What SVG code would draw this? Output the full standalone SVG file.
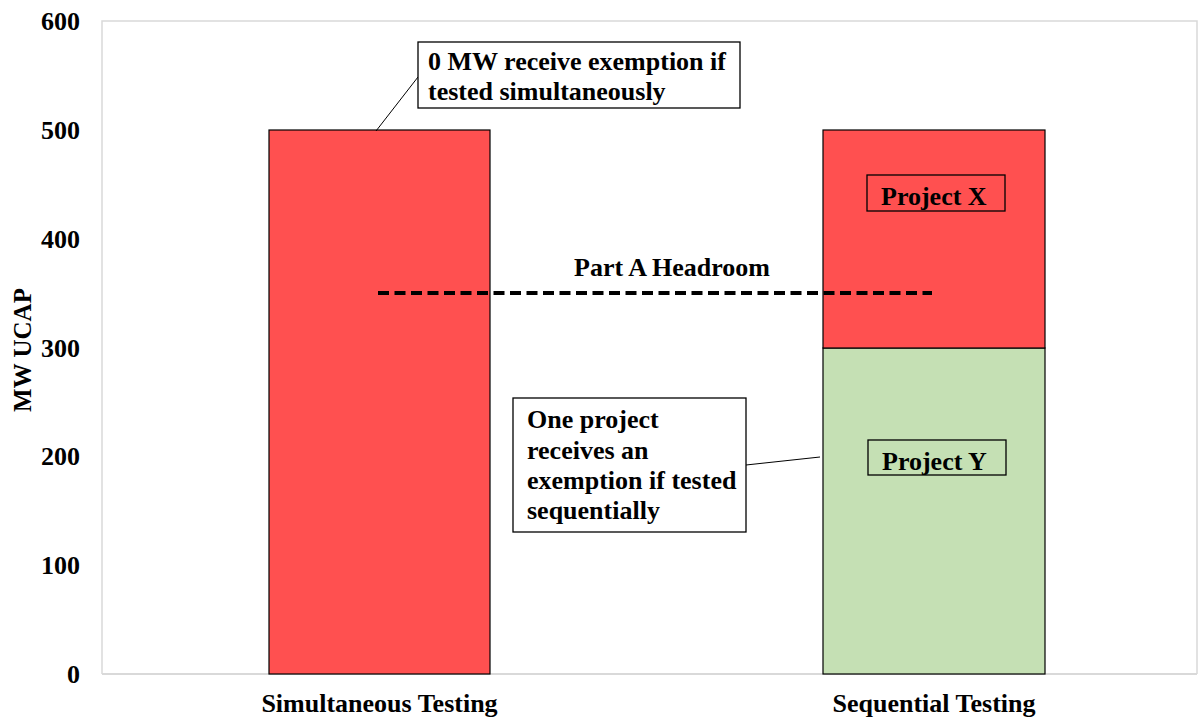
<svg xmlns="http://www.w3.org/2000/svg" width="1198" height="717" viewBox="0 0 1198 717">
  <style>
    text { font-family: "Liberation Serif", "Times New Roman", serif; font-weight: bold; fill: #000; }
    .tick { font-size: 26px; text-anchor: end; }
    .cat { font-size: 26px; text-anchor: middle; }
    .note { font-size: 26px; }
    .frame { stroke: #D9D9D9; stroke-width: 1.5; fill: none; }
    .bar { stroke: #000; stroke-width: 1.2; }
    .red { fill: #FF5050; }
    .green { fill: #C5E0B4; }
    .box { fill: #FFFFFF; stroke: #000; stroke-width: 1.3; }
    .tag { fill: none; stroke: #000; stroke-width: 1.3; }
    .leader { stroke: #000; stroke-width: 1; fill: none; }
  </style>
  <rect width="1198" height="717" fill="#FFFFFF"/>

  <!-- plot area frame and category axis -->
  <g id="plot-area">
    <path class="frame" d="M102,674 V21 H1197 V674"/>
    <line x1="102" y1="674" x2="1197" y2="674" stroke="#D9D9D9" stroke-width="2"/>
  </g>

  <!-- value axis -->
  <g id="value-axis">
    <text class="tick" x="80" y="683">0</text>
    <text class="tick" x="80" y="574">100</text>
    <text class="tick" x="80" y="465">200</text>
    <text class="tick" x="80" y="357">300</text>
    <text class="tick" x="80" y="248">400</text>
    <text class="tick" x="80" y="139">500</text>
    <text class="tick" x="80" y="30">600</text>
    <text font-size="25" text-anchor="middle" transform="translate(31,350) rotate(-90)">MW UCAP</text>
  </g>

  <!-- bars -->
  <g id="bar-simultaneous">
    <rect class="bar red" x="269" y="130" width="221" height="544"/>
  </g>
  <g id="bar-sequential">
    <rect class="bar green" x="823" y="348" width="222" height="326"/>
    <rect class="bar red" x="823" y="130" width="222" height="218"/>
  </g>

  <!-- category labels -->
  <g id="category-labels">
    <text class="cat" x="379.5" y="712">Simultaneous Testing</text>
    <text class="cat" x="934" y="712">Sequential Testing</text>
  </g>

  <!-- connectors: headroom line and callout leaders -->
  <g id="connectors">
    <line x1="378" y1="293" x2="932" y2="293" stroke="#000" stroke-width="4" stroke-dasharray="11 5.5"/>
    <line class="leader" x1="418" y1="77" x2="376" y2="131"/>
    <line class="leader" x1="746" y1="465" x2="820" y2="457"/>
  </g>

  <g id="headroom-label">
    <text class="note" x="672" y="276" text-anchor="middle">Part A Headroom</text>
  </g>

  <g id="callout-simultaneous">
    <rect class="box" x="418" y="42" width="322" height="66"/>
    <text class="note" x="428" y="70">0 MW receive exemption if</text>
    <text class="note" x="428" y="100">tested simultaneously</text>
  </g>

  <g id="callout-sequential">
    <rect class="box" x="513" y="398" width="233" height="134"/>
    <text class="note" x="527" y="428">One project</text>
    <text class="note" x="527" y="459">receives an</text>
    <text class="note" x="527" y="489">exemption if tested</text>
    <text class="note" x="527" y="519">sequentially</text>
  </g>

  <g id="label-project-x">
    <rect class="tag" x="867" y="175" width="138" height="36"/>
    <text class="note" x="881" y="205">Project X</text>
  </g>

  <g id="label-project-y">
    <rect class="tag" x="868" y="440" width="138" height="35"/>
    <text class="note" x="882" y="470">Project Y</text>
  </g>
</svg>
